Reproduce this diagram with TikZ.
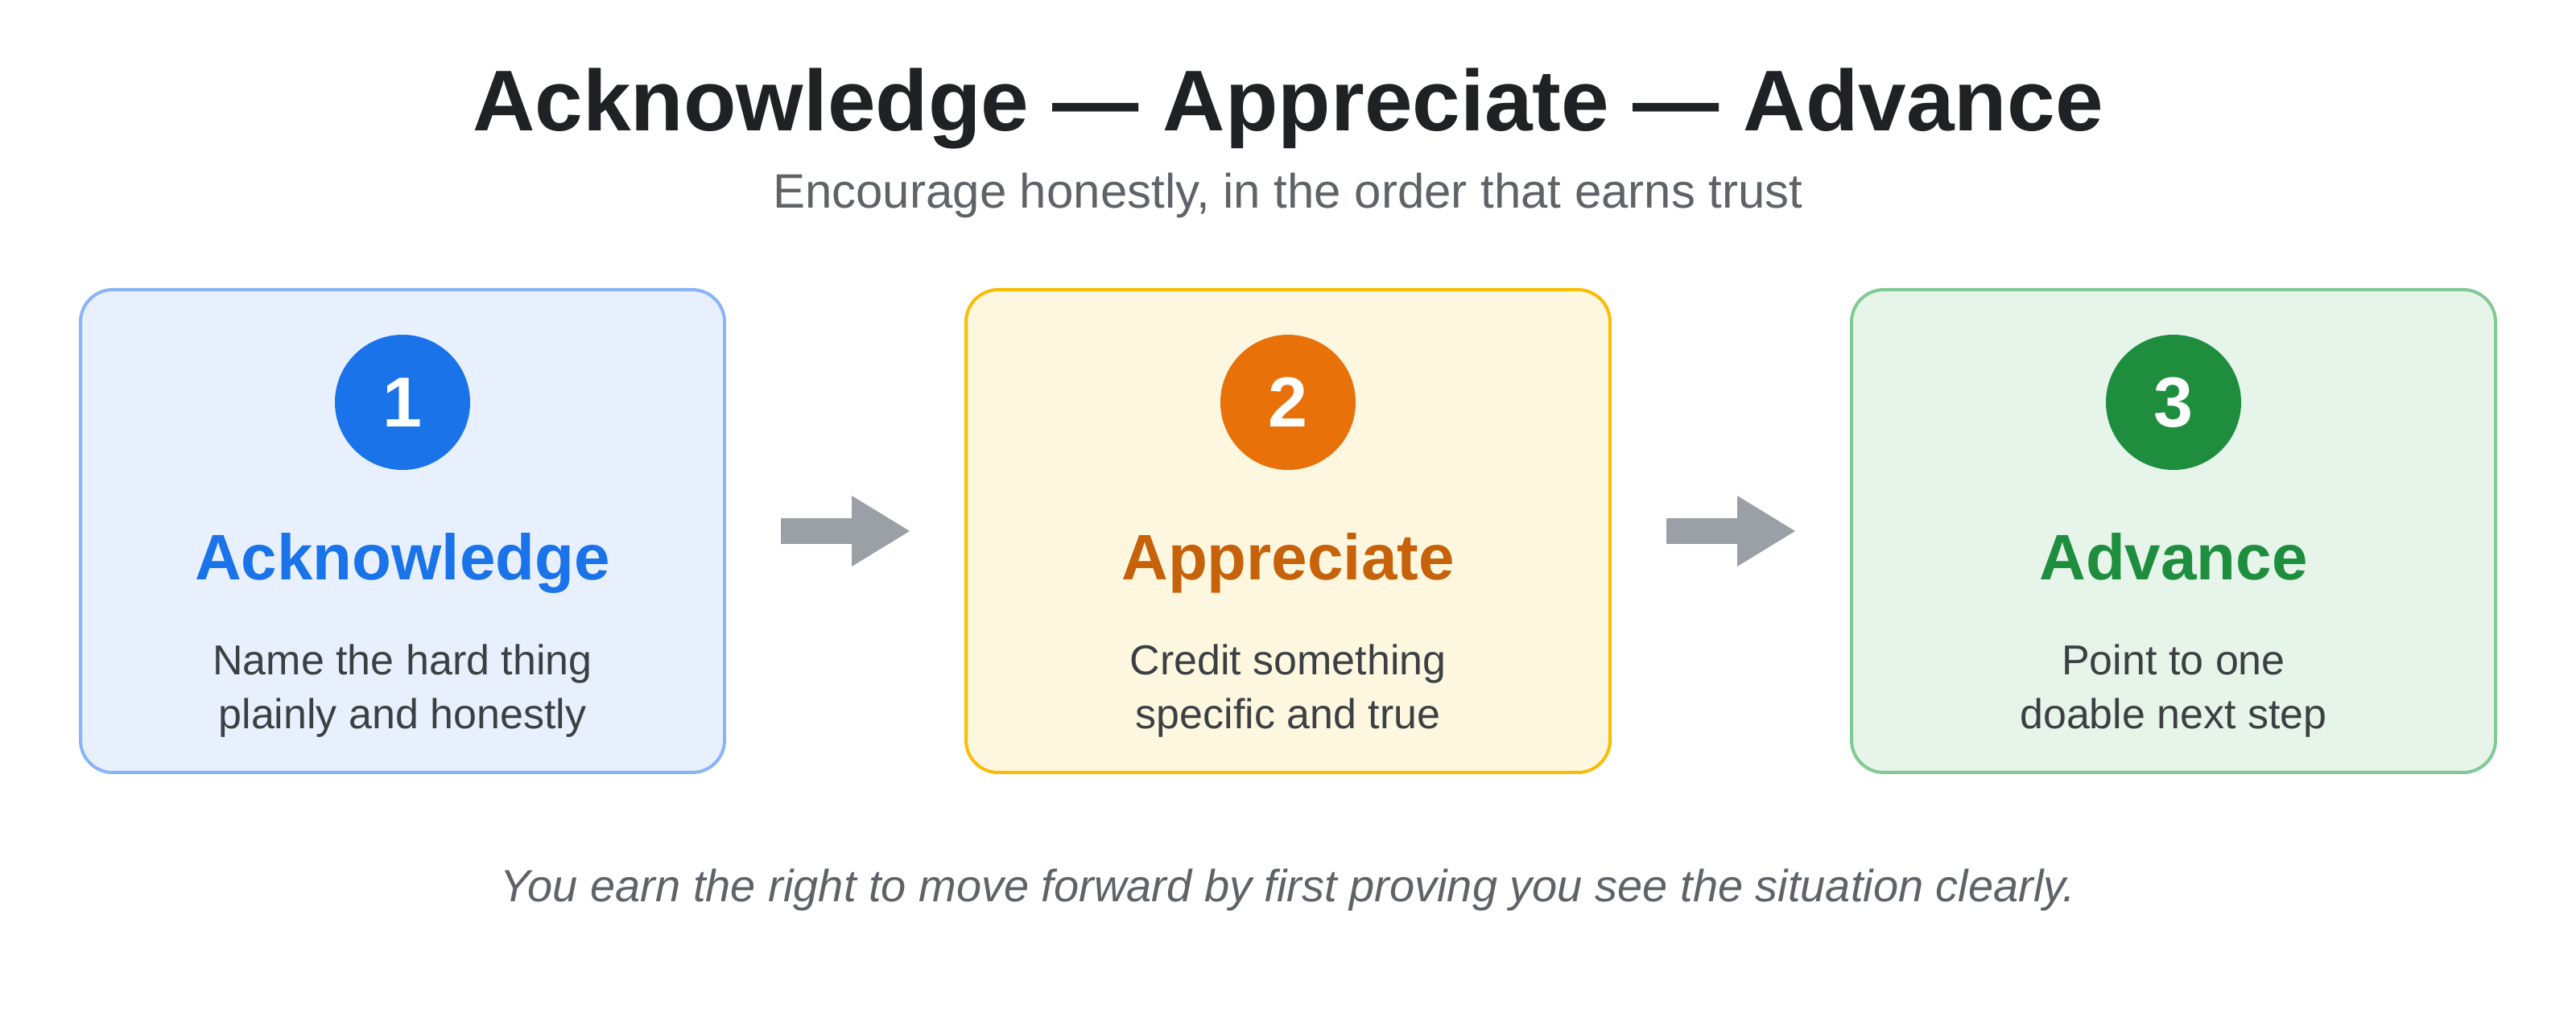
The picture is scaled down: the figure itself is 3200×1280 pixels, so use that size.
\documentclass[tikz,border=0pt]{standalone}
\usepackage{fontspec}
\setmainfont{Liberation Sans}
\usepackage{xcolor}
\usepackage{tikz}
\usetikzlibrary{positioning}
\usetikzlibrary{arrows.meta}
\usetikzlibrary{calc}

\definecolor{inkdark}{HTML}{202124}
\definecolor{inkgray}{HTML}{5F6368}
\definecolor{inkbody}{HTML}{3C4043}
\definecolor{arrowgray}{HTML}{9AA0A6}
\definecolor{bluefill}{HTML}{E8F0FE}
\definecolor{blueline}{HTML}{8AB4F8}
\definecolor{bluedot}{HTML}{1A73E8}
\definecolor{bluehead}{HTML}{1A73E8}
\definecolor{yellowfill}{HTML}{FEF7E0}
\definecolor{yellowline}{HTML}{FBBC04}
\definecolor{orangedot}{HTML}{E8710A}
\definecolor{orangehead}{HTML}{C5620A}
\definecolor{greenfill}{HTML}{E6F4EA}
\definecolor{greenline}{HTML}{81C995}
\definecolor{greendot}{HTML}{1E8E3E}
\definecolor{greenhead}{HTML}{1E8E3E}

\tikzstyle{stepbox}=[rectangle,rounded corners=10pt,line width=1pt,minimum width=200pt,minimum height=150pt,inner sep=0pt]
\tikzstyle{numdot}=[circle,minimum size=42pt,inner sep=0pt,text=white,font=\fontsize{22}{22}\selectfont\bfseries]
\tikzstyle{headtext}=[anchor=base,font=\fontsize{20}{24}\selectfont\bfseries]
\tikzstyle{bodytext}=[anchor=base,align=center,text=inkbody,font=\fontsize{13}{17}\selectfont]
\tikzstyle{flow} = [draw=arrowgray,line width=8pt,-{Triangle[length=18pt,width=22pt,line width=0pt]}]

\begin{document}
\begin{tikzpicture}[x=0.25pt,y=-0.25pt]

 \useasboundingbox (0,0) rectangle (3200,1280);

 %title
 \node[anchor=base,text=inkdark,font=\fontsize{26.8}{30}\selectfont\bfseries] (title) at (1600,163) {Acknowledge — Appreciate — Advance};
 \node[anchor=base,text=inkgray,font=\fontsize{15}{18}\selectfont] (subtitle) at (1600,259) {Encourage honestly, in the order that earns trust};

 %steps
 \foreach \x/\name/\tone in {500/ack/blue, 1600/app/yellow, 2700/adv/green}
   \node[stepbox,draw=\tone line,fill=\tone fill] (\name) at (\x,660) {};

 \node[numdot,fill=bluedot] (ackdot) at (500,500) {1};
 \node[numdot,fill=orangedot] (appdot) at (1600,500) {2};
 \node[numdot,fill=greendot] (advdot) at (2700,500) {3};

 \node[headtext,text=bluehead] (ackhead) at (500,721) {Acknowledge};
 \node[headtext,text=orangehead] (apphead) at (1600,721) {Appreciate};
 \node[headtext,text=greenhead] (advhead) at (2700,721) {Advance};

 % base of a two line node sits on its last line
 \node[bodytext] (ackbody) at (500,906) {Name the hard thing\\plainly and honestly};
 \node[bodytext] (appbody) at (1600,906) {Credit something\\specific and true};
 \node[bodytext] (advbody) at (2700,906) {Point to one\\doable next step};

 %arrows
 \coordinate (a1s) at ($(ack.east)+(68,0)$);
 \coordinate (a1e) at ($(app.west)+(-68,0)$);
 \coordinate (a2s) at ($(app.east)+(68,0)$);
 \coordinate (a2e) at ($(adv.west)+(-68,0)$);
 \foreach \source/ \dest in {a1s/a1e, a2s/a2e}
    \draw[flow] (\source) -- (\dest);

 %footer
 \node[anchor=base,text=inkgray,font=\fontsize{14}{18}\selectfont\itshape] (footer) at (1600,1120) {You earn the right to move forward by first proving you see the situation clearly.};

\end{tikzpicture}
\end{document}
